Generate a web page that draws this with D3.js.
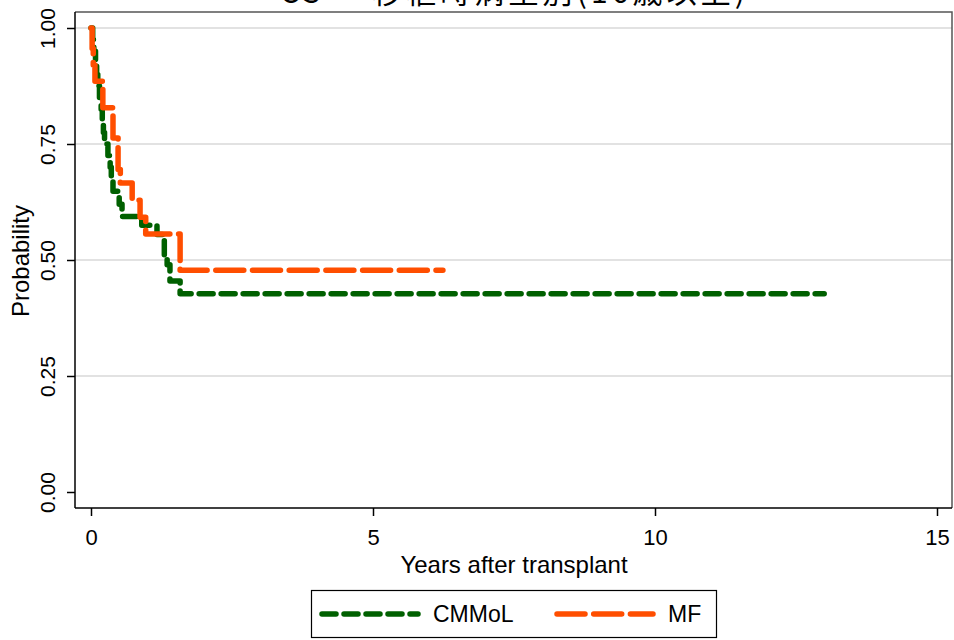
<!DOCTYPE html>
<html><head><meta charset="utf-8">
<script src="https://cdn.jsdelivr.net/npm/d3@7"></script>
<style>
html,body{margin:0;padding:0;background:#fff;}
svg{display:block;}
text{font-family:"Liberation Sans",Arial,sans-serif;fill:#000;}
</style></head>
<body>
<svg id="chart" width="954" height="640"></svg>
<script>
// ---- data ----
const titleLatin = "OS";
const titleJa = "移植時病型別(16歳以上)";
const xLabel = "Years after transplant";
const yLabel = "Probability";
const xTicks = [0, 5, 10, 15];
const yTicks = [0, 0.25, 0.5, 0.75, 1];
const gridTicks = [0.25, 0.5, 0.75, 1];
const seriesNames = ["CMMoL", "MF"];
const seriesColors = ["#006000", "#ff4e00"];
const cmmolTime = [0, 0.03, 0.05, 0.08, 0.10, 0.12, 0.15, 0.18, 0.20, 0.22, 0.24, 0.30, 0.34, 0.36, 0.39, 0.50, 0.55, 0.90, 1.17, 1.30, 1.35, 1.40, 1.58, 13.0];
const cmmolSurv = [1, 0.975, 0.95, 0.925, 0.90, 0.875, 0.85, 0.825, 0.80, 0.775, 0.75, 0.725, 0.70, 0.675, 0.648, 0.62, 0.594, 0.575, 0.555, 0.51, 0.49, 0.455, 0.427, 0.427];
const mfTime = [0, 0.02, 0.04, 0.07, 0.21, 0.39, 0.48, 0.52, 0.73, 0.87, 0.97, 1.58, 6.24];
const mfSurv = [1, 0.956, 0.92, 0.885, 0.828, 0.763, 0.695, 0.666, 0.629, 0.592, 0.556, 0.478, 0.478];

// ---- layout ----
const svg = d3.select("#chart");
const plot = {left: 75, right: 952, top: 12, bottom: 508};
const x = d3.scaleLinear().domain([0, 15]).range([91, 937]);
const y = d3.scaleLinear().domain([0, 1]).range([492, 28]);

// gridlines
svg.append("g").selectAll("line").data(gridTicks).join("line")
  .attr("x1", plot.left).attr("x2", plot.right)
  .attr("y1", d => y(d)).attr("y2", d => y(d))
  .attr("stroke", "#e2e2e2").attr("stroke-width", 2);

// plot border (top/right)
svg.append("path")
  .attr("d", `M${plot.left},${plot.top}H${plot.right}V${plot.bottom}`)
  .attr("fill", "none").attr("stroke", "#555").attr("stroke-width", 1.5);

// axes
const yAxis = svg.append("g").attr("transform", `translate(${plot.left},0)`)
  .call(d3.axisLeft(y).tickValues(yTicks).tickFormat(d3.format(".2f")).tickSize(8).tickPadding(4));
yAxis.select(".domain").attr("d", `M0,${plot.top}V${plot.bottom}`).attr("stroke", "#000").attr("stroke-width", 1.5);
yAxis.selectAll(".tick line").attr("stroke", "#000").attr("stroke-width", 1.5);
yAxis.selectAll(".tick text")
  .attr("x", null).attr("dy", null)
  .attr("transform", "translate(-20,0) rotate(-90)")
  .attr("text-anchor", "middle")
  .style("font-size", "21px").style("font-family", "Liberation Sans, Arial, sans-serif");

const xAxis = svg.append("g").attr("transform", `translate(0,${plot.bottom})`)
  .call(d3.axisBottom(x).tickValues(xTicks).tickFormat(d3.format("d")).tickSize(8));
xAxis.select(".domain").attr("d", `M${plot.left},0H${plot.right}`).attr("stroke", "#000").attr("stroke-width", 1.5);
xAxis.selectAll(".tick line").attr("stroke", "#000").attr("stroke-width", 1.5);
xAxis.selectAll(".tick text")
  .attr("y", 37).attr("dy", null)
  .style("font-size", "22px").style("font-family", "Liberation Sans, Arial, sans-serif");

// axis titles
svg.append("text").attr("x", 514).attr("y", 573).attr("text-anchor", "middle")
  .style("font-size", "24px").text(xLabel);
svg.append("text").attr("transform", "translate(29,261) rotate(-90)").attr("text-anchor", "middle")
  .style("font-size", "24px").text(yLabel);

// title (clipped at top, as in the reference)
const t = svg.append("text").attr("y", 2.5).style("font-family", "'Noto Sans CJK JP', sans-serif").style("font-size", "30px");
t.append("tspan").attr("x", 280).text(titleLatin);
t.append("tspan").attr("x", 372).attr("textLength", 373).attr("lengthAdjust", "spacing").text(titleJa);

// curves
const line = d3.line().x(d => x(d[0])).y(d => y(d[1])).curve(d3.curveStepAfter);
const cmmol = cmmolTime.map((tt, i) => [tt, cmmolSurv[i]]);
const mf = mfTime.map((tt, i) => [tt, mfSurv[i]]);
const dashes = ["14,8", "28,8.7"];
svg.append("path").datum(cmmol).attr("d", line)
  .attr("fill", "none").attr("stroke", seriesColors[0]).attr("stroke-width", 5.5)
  .attr("stroke-linecap", "round").attr("stroke-linejoin", "round").attr("stroke-dasharray", dashes[0]);
svg.append("path").datum(mf).attr("d", line)
  .attr("fill", "none").attr("stroke", seriesColors[1]).attr("stroke-width", 5.5)
  .attr("stroke-linecap", "round").attr("stroke-linejoin", "round").attr("stroke-dasharray", dashes[1]);

// legend
const lg = svg.append("g");
lg.append("rect").attr("x", 311.5).attr("y", 590.5).attr("width", 405).attr("height", 47)
  .attr("fill", "#fff").attr("stroke", "#000").attr("stroke-width", 1.2);
const items = [{x0: 322, x1: 418, tx: 433}, {x0: 557, x1: 653, tx: 668}];
items.forEach((it, i) => {
  lg.append("line").attr("x1", it.x0).attr("x2", it.x1).attr("y1", 614).attr("y2", 614)
    .attr("stroke", seriesColors[i]).attr("stroke-width", 5.5).attr("stroke-linecap", "round")
    .attr("stroke-dasharray", dashes[i]);
  lg.append("text").attr("x", it.tx).attr("y", 622).style("font-size", "23px").text(seriesNames[i]);
});
</script>
</body></html>
